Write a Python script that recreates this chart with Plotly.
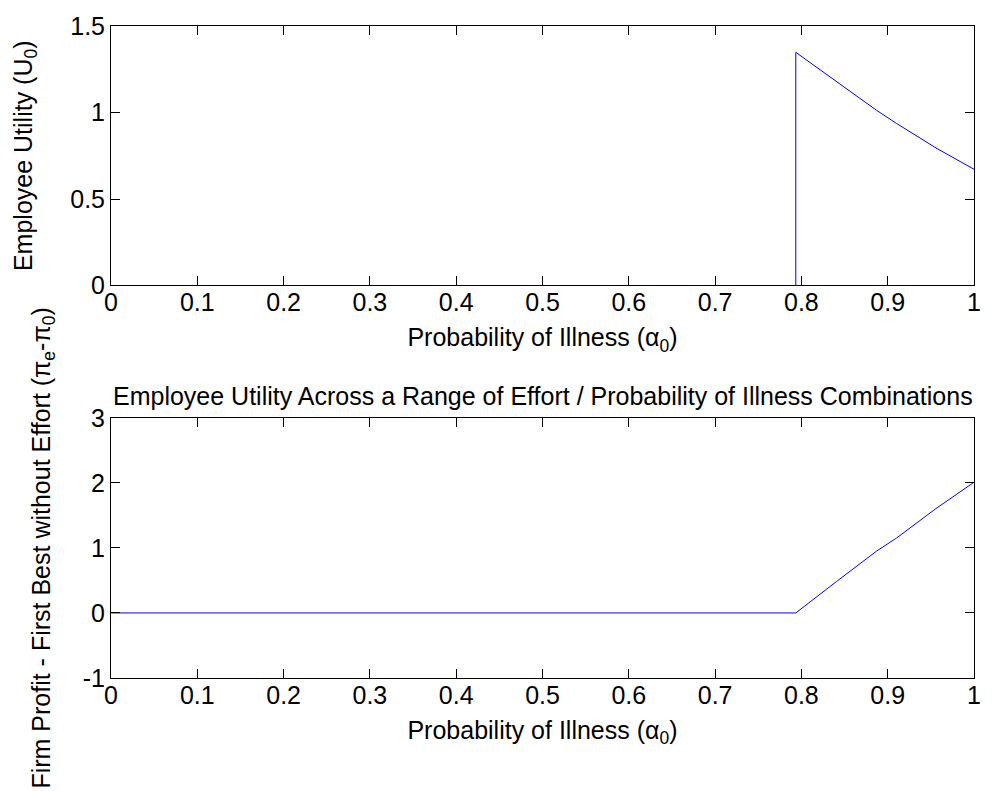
import plotly.graph_objects as go
from plotly.subplots import make_subplots

# Top panel: employee utility
x_top = [0.0, 0.7935, 0.7935, 0.8408, 0.887, 0.910, 0.956, 1.0]
u_top = [0.0, 0.0, 1.348, 1.178, 1.013, 0.9375, 0.795, 0.672]

# Bottom panel: firm profit difference
x_bot = [0.0, 0.7935, 0.8408, 0.887, 0.910, 0.956, 1.0]
p_bot = [0.0, 0.0, 0.485, 0.95, 1.15, 1.606, 2.01]

x_ticks = [0, 0.1, 0.2, 0.3, 0.4, 0.5, 0.6, 0.7, 0.8, 0.9, 1]
x_ticklabels = ["0", "0.1", "0.2", "0.3", "0.4", "0.5", "0.6", "0.7", "0.8", "0.9", "1"]
y_top_ticks = [0, 0.5, 1, 1.5]
y_top_labels = ["0", "0.5", "1", "1.5"]
y_bot_ticks = [-1, 0, 1, 2, 3]
y_bot_labels = ["-1", "0", "1", "2", "3"]

FONT = "Liberation Sans, Arial, sans-serif"
fs = 25

fig = make_subplots(rows=2, cols=1)
fig.add_trace(go.Scatter(x=x_top, y=u_top, mode="lines",
                         line=dict(color="#0000ff", width=1), showlegend=False), row=1, col=1)
fig.add_trace(go.Scatter(x=x_bot, y=p_bot, mode="lines",
                         line=dict(color="#0000ff", width=1), showlegend=False), row=2, col=1)

axis_common = dict(showline=True, linecolor="black", linewidth=1, mirror="allticks",
                   ticks="inside", ticklen=9, tickcolor="black", showgrid=False,
                   zeroline=False, tickfont=dict(family=FONT, size=fs, color="black"))

xlabel = "Probability of Illness (α<sub>0</sub>)"
fig.update_xaxes(range=[0, 1], tickvals=x_ticks, ticktext=x_ticklabels, ticklabelstandoff=-5,
                 title=dict(text=xlabel, font=dict(family=FONT, size=fs, color="black"), standoff=13),
                 **axis_common)
fig.update_yaxes(**axis_common)

fig.update_layout(
    xaxis=dict(domain=[0, 1]),
    yaxis=dict(domain=[0.602, 1.0], range=[0, 1.5], tickvals=y_top_ticks, ticktext=y_top_labels,
               title=dict(text="Employee Utility (U<sub>0</sub>)",
                          font=dict(family=FONT, size=fs, color="black"), standoff=30)),
    yaxis2=dict(domain=[0.0, 0.399], range=[-1, 3], tickvals=y_bot_ticks, ticktext=y_bot_labels,
                title=dict(text="Firm Profit - First Best without Effort (π<sub>e</sub>-π<sub>0</sub>)",
                           font=dict(family=FONT, size=fs, color="black"), standoff=25)),
    width=993, height=791,
    margin=dict(l=111, r=15, t=17, b=113),
    paper_bgcolor="white", plot_bgcolor="white",
    font=dict(family=FONT, size=fs, color="black"),
    annotations=[dict(text="Employee Utility Across a Range of Effort / Probability of Illness Combinations",
                      xref="paper", yref="paper", x=0.5, y=0.399, yshift=6,
                      xanchor="center", yanchor="bottom", showarrow=False,
                      font=dict(family=FONT, size=fs, color="black"))],
)

fig.write_html("out.html")
